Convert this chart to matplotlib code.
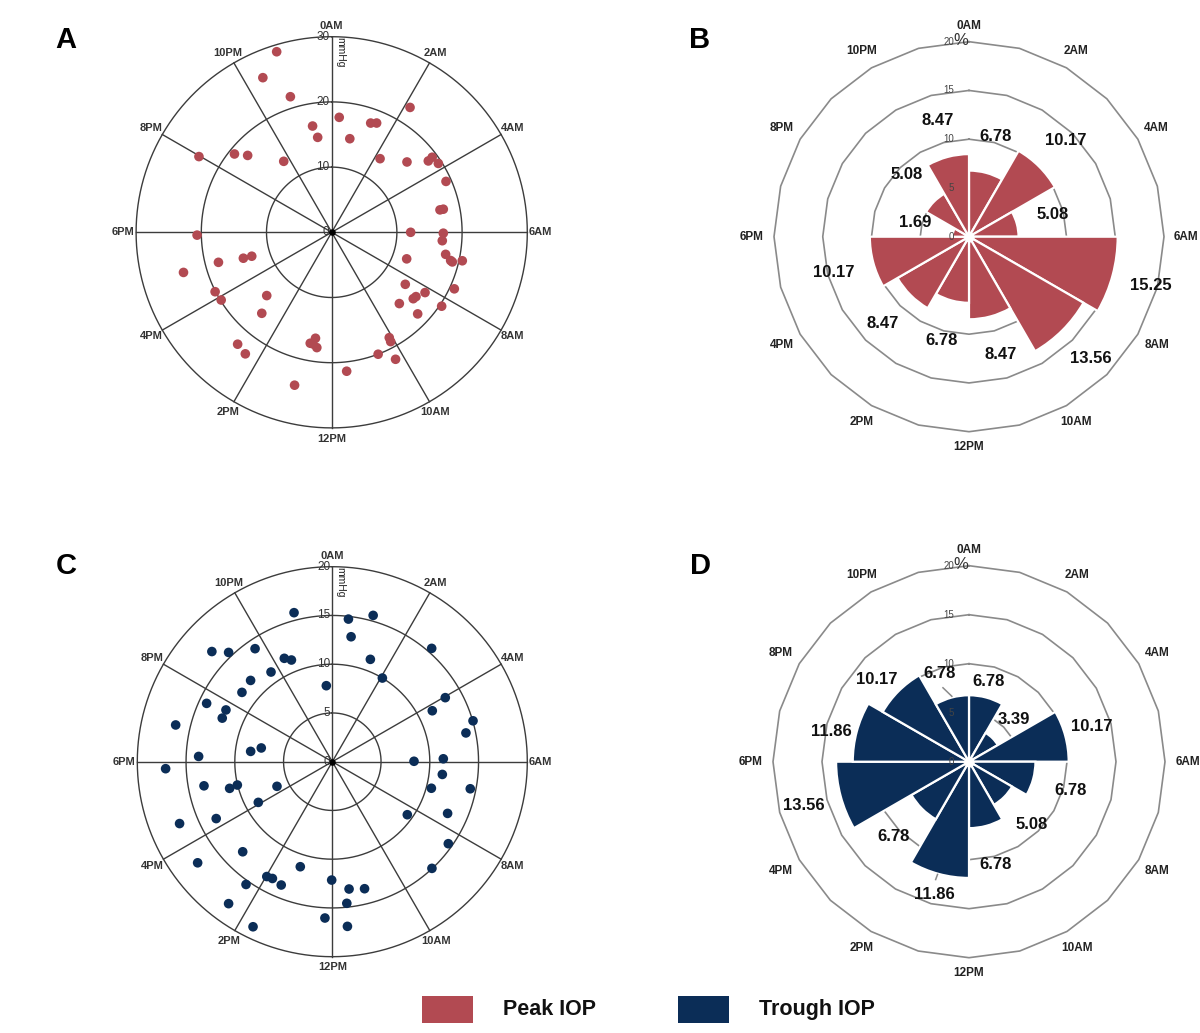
import numpy as np
import matplotlib
matplotlib.use('Agg')
import matplotlib.pyplot as plt
from matplotlib.patches import Rectangle

plt.rcParams['font.family'] = ['Liberation Sans', 'DejaVu Sans']

# --- data ---
hour_labels = ['0AM', '2AM', '4AM', '6AM', '8AM', '10AM',
               '12PM', '2PM', '4PM', '6PM', '8PM', '10PM']

# A: peak IOP, time of day (h) and value (mmHg)
peak_hour = [22.87, 22.40, 22.87, 0.25, 23.32, 23.44, 0.73, 1.31, 1.49, 2.14,
             2.22, 3.13, 3.57, 3.55, 3.81, 4.40, 5.22, 5.22, 6.00, 6.03,
             6.29, 6.73, 6.89, 6.82, 6.92, 7.30, 8.35, 8.19, 8.49, 8.61,
             9.10, 8.90, 8.26, 7.65, 10.09, 10.11, 10.61, 10.22, 11.59, 12.58,
             12.73, 12.64, 12.49, 12.91, 14.67, 14.36, 14.72, 15.05, 16.20, 15.90,
             16.99, 17.01, 16.91, 16.89, 17.92, 19.98, 20.59, 20.83, 21.73]
peak_mmhg = [28.95, 25.96, 21.74, 17.67, 16.56, 14.72, 14.62, 17.79, 18.12, 22.61,
             13.51, 15.80, 18.42, 19.24, 19.47, 19.19, 16.96, 17.48, 12.11, 17.12,
             17.01, 17.80, 18.75, 20.50, 19.05, 12.20, 13.82, 17.04, 16.26, 16.13,
             15.07, 18.18, 20.32, 20.71, 18.41, 19.05, 20.01, 21.80, 21.43, 16.44,
             17.33, 17.36, 17.83, 24.13, 22.42, 22.87, 16.41, 13.91, 20.07, 19.88,
             23.55, 17.97, 14.12, 12.80, 20.65, 23.44, 19.15, 17.47, 13.14]

# C: trough IOP
trough_hour = [23.04, 0.43, 1.04, 0.57, 1.36, 2.06, 23.70, 2.75, 4.03, 4.20,
               4.92, 5.19, 5.98, 5.90, 6.44, 7.00, 6.74, 8.35, 7.61, 8.35,
               9.13, 12.02, 11.50, 11.05, 11.61, 12.18, 11.65, 13.13, 13.98, 13.81,
               13.50, 14.34, 14.41, 13.71, 14.99, 15.54, 16.26, 16.53, 16.08, 16.40,
               17.03, 17.08, 17.29, 17.84, 18.15, 18.48, 18.73, 18.88, 19.66, 19.44,
               19.73, 20.50, 20.99, 21.71, 21.71, 20.83, 21.10, 22.34, 22.54]
trough_mmhg = [15.78, 14.72, 15.58, 12.96, 11.20, 10.00, 7.82, 15.46, 13.32, 11.51,
               15.03, 14.02, 8.38, 11.39, 11.36, 10.52, 14.42, 9.42, 12.96, 14.57,
               14.97, 12.14, 13.17, 13.44, 14.60, 16.05, 16.96, 11.26, 13.56, 13.46,
               13.69, 15.39, 18.03, 18.78, 13.03, 17.27, 13.26, 16.90, 8.66, 6.21,
               10.88, 10.03, 13.39, 17.11, 13.72, 8.44, 7.42, 16.50, 14.21, 12.14,
               12.13, 11.68, 11.82, 11.14, 14.04, 16.74, 15.45, 11.69, 11.24]

# B / D: share (%) per 2-hour bin, starting at 0AM
peak_pct = [6.78, 10.17, 5.08, 15.25, 13.56, 8.47, 6.78, 8.47, 10.17, 1.69, 5.08, 8.47]
trough_pct = [6.78, 3.39, 10.17, 6.78, 5.08, 6.78, 11.86, 6.78, 13.56, 11.86, 10.17, 6.78]

RED = '#b24a52'
NAVY = '#0b2d57'
W, H = 1200, 1033

fig = plt.figure(figsize=(W / 100, H / 100), dpi=100)


def make_axes(cx, cy, R):
    ax = fig.add_axes([(cx - R) / W, 1 - (cy + R) / H, 2 * R / W, 2 * R / H],
                      projection='polar')
    ax.set_theta_zero_location('N')
    ax.set_theta_direction(-1)
    ax.grid(False)
    ax.set_xticks([])
    ax.set_yticks([])
    ax.spines['polar'].set_visible(False)
    ax.patch.set_alpha(0)
    return ax


def hour_to_theta(h):
    return np.asarray(h, dtype=float) / 24 * 2 * np.pi


def scatter_panel(cx, cy, R, hours, vals, rmax, rings, color):
    ax = make_axes(cx, cy, R)
    ax.set_ylim(0, rmax)
    t = np.linspace(0, 2 * np.pi, 361)
    for r in rings:
        ax.plot(t, np.full_like(t, r), color='#3c3c3c', lw=1.0, zorder=1, clip_on=False)
    for k in range(12):
        ax.plot([k * np.pi / 6] * 2, [0, rmax], color='#3c3c3c', lw=1.0, zorder=1, clip_on=False)
    ax.scatter(hour_to_theta(hours), vals, s=48, color=color, edgecolors='none', zorder=3,
               clip_on=False)
    ax.scatter([0], [0], s=14, color='black', zorder=4)
    for r in [0] + list(rings):
        ax.annotate(f'{r:g}', (0, r), xytext=(-1.5, 0), textcoords='offset points',
                    ha='right', va='center', fontsize=8.5, color='#333333', zorder=5)
    ax.annotate('mmHg', (0, rmax), xytext=(2.5, -0.5), textcoords='offset points',
                rotation=270, ha='left', va='top', fontsize=7.5, color='#222222')
    for k, lab in enumerate(hour_labels):
        th = k * np.pi / 6
        ax.text(th, rmax * (1.055 + 0.012 * abs(np.sin(th))), lab, ha='center', va='center',
                fontsize=8, fontweight='bold', color='#333333', clip_on=False)
    return ax


def rose_panel(cx, cy, R, pct, color, lab_dr, lab_dth):
    ax = make_axes(cx, cy, R)
    rmax = 20
    ax.set_ylim(0, rmax)
    t = np.arange(25) * np.pi / 12
    for r in [5, 10, 15, 20]:
        ax.plot(t, np.full_like(t, r), color='#8a8a8a', lw=1.2, zorder=1, clip_on=False)
    centers = (np.arange(12) + 0.5) * np.pi / 6
    ax.bar(centers, pct, width=np.pi / 6, color=color, edgecolor='white', linewidth=1.6,
           zorder=2)
    ax.scatter([0], [0], s=40, color='white', zorder=3)
    for r in [0, 5, 10, 15, 20]:
        ax.annotate(f'{r}', (0, r), xytext=(-10.5, 0), textcoords='offset points',
                    ha='right', va='center', fontsize=7, color='#444444', zorder=4)
    ax.annotate('%', (0, rmax), xytext=(-5.8, 0.8), textcoords='offset points',
                ha='center', va='center', fontsize=12, color='#333333')
    for k, lab in enumerate(hour_labels):
        th = k * np.pi / 6
        ax.text(th, rmax * (1.08 + 0.035 * abs(np.sin(th))), lab, ha='center', va='center',
                fontsize=8.5, fontweight='bold', color='#222222', clip_on=False)
    for k, v in enumerate(pct):
        th = centers[k] + np.deg2rad(lab_dth[k])
        ax.text(th, v + lab_dr[k], f'{v:.2f}', ha='center', va='center', fontsize=12,
                fontweight='bold', color='#111111', zorder=5, clip_on=False)
    return ax


axA = scatter_panel(331.7, 232.3, 195.6, peak_hour, peak_mmhg, 30, [10, 20, 30], RED)
axC = scatter_panel(332.3, 761.7, 195.0, trough_hour, trough_mmhg, 20, [5, 10, 15, 20], NAVY)

axB = rose_panel(969, 236.7, 195.0, peak_pct, RED,
                 [3.9, 3.8, 3.8, 4.05, 4.1, 4.0, 4.2, 4.1, 4.2, 4.0, 3.9, 3.9],
                 [0] * 12)
axD = rose_panel(969, 761.7, 196.0, trough_pct, NAVY,
                 [1.6, 2.85, 2.9, 4.0, 4.0, 4.0, 2.1, 4.1, 3.85, 2.5, 2.45, 2.7],
                 [-1.4, 1.8, -0.9, 0.7, 0.3, 0.7, -0.5, 0.3, 0.2, -2.7, -3.5, -3.2])
# short leader lines of the displaced labels in D
axD.plot(np.deg2rad([345.3, 340.6]), [6.9, 8.0], color='#8a8a8a', lw=1.1, zorder=4)
axD.plot(np.deg2rad([195.6, 195.8]), [11.95, 12.5], color='#8a8a8a', lw=1.1, zorder=4)

# panel letters
for x, y, s in [(66, 40, 'A'), (700, 40, 'B'), (66, 566, 'C'), (700, 566, 'D')]:
    fig.text(x / W, 1 - y / H, s, ha='center', va='center', fontsize=21, fontweight='bold')

# legend
for x0, col, lab in [(422, RED, 'Peak IOP'), (678, NAVY, 'Trough IOP')]:
    fig.patches.append(Rectangle((x0 / W, 1 - 1022.5 / H), 51 / W, 26.5 / H,
                                 transform=fig.transFigure, facecolor=col, edgecolor='none'))
    fig.text((x0 + 81) / W, 1 - 1009.5 / H, lab, ha='left', va='center', fontsize=15.5,
             fontweight='bold', color='#111111')

fig.savefig('out.png', dpi=100, facecolor='white')
